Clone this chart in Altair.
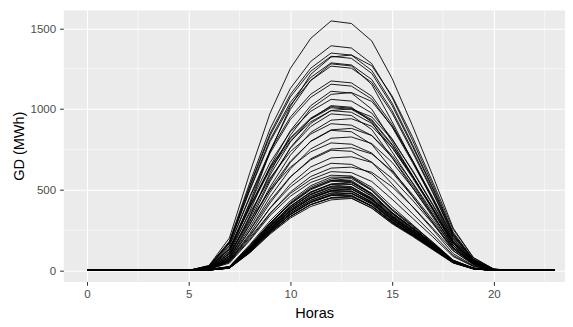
import altair as alt
import pandas as pd

HOURS = list(range(24))
NIGHT_BEFORE = [0, 0, 0, 0, 0, 0]   # hours 0-5
NIGHT_AFTER = [0, 0, 0]             # hours 21-23

# values for hours 6..20, one list per day (upper curves)
UPPER = [
    [31, 201, 603, 974, 1252, 1438, 1546, 1530, 1422, 1190, 897, 587, 263, 77, 8],
    [28, 181, 543, 877, 1128, 1295, 1392, 1378, 1281, 1072, 807, 529, 237, 70, 7],
    [27, 175, 525, 849, 1091, 1253, 1347, 1334, 1239, 1037, 781, 512, 229, 67, 7],
    [27, 173, 518, 836, 1075, 1234, 1327, 1314, 1221, 1022, 770, 504, 226, 66, 7],
    [26, 167, 502, 810, 1042, 1196, 1286, 1273, 1183, 990, 746, 489, 219, 64, 6],
    [25, 165, 494, 798, 1025, 1177, 1266, 1253, 1165, 975, 734, 481, 215, 63, 6],
    [23, 153, 458, 740, 951, 1092, 1174, 1162, 1080, 904, 681, 446, 200, 59, 6],
    [23, 150, 450, 727, 935, 1073, 1154, 1142, 1062, 889, 669, 439, 196, 58, 6],
    [11, 88, 331, 606, 838, 1003, 1091, 1102, 1047, 893, 683, 452, 209, 66, 7],
    [21, 138, 413, 668, 859, 986, 1060, 1049, 975, 816, 615, 403, 180, 53, 5],
    [15, 92, 337, 592, 796, 939, 1021, 1011, 919, 735, 541, 347, 143, 41, 4],
    [10, 80, 300, 551, 761, 911, 991, 1001, 951, 811, 621, 410, 190, 60, 6],
    [20, 129, 386, 624, 802, 921, 990, 980, 911, 762, 574, 376, 168, 50, 5],
    [15, 87, 320, 563, 757, 892, 970, 960, 873, 698, 514, 330, 136, 39, 4],
    [9, 75, 282, 517, 714, 855, 931, 940, 893, 761, 583, 385, 179, 56, 6],
    [18, 118, 355, 573, 736, 845, 909, 900, 836, 700, 527, 345, 155, 45, 5],
    [13, 78, 286, 503, 677, 799, 868, 859, 781, 625, 460, 295, 122, 35, 3],
    [8, 66, 248, 455, 629, 753, 819, 827, 786, 670, 513, 339, 157, 50, 5],
    [16, 103, 308, 498, 640, 735, 790, 782, 727, 608, 458, 300, 134, 40, 4],
    [11, 67, 246, 432, 581, 685, 745, 738, 671, 536, 395, 253, 104, 30, 3],
    [7, 56, 211, 387, 535, 641, 697, 704, 669, 570, 436, 289, 134, 42, 4],
    [10, 60, 219, 385, 518, 611, 664, 657, 598, 478, 352, 226, 93, 27, 3],
    [9, 55, 202, 355, 477, 563, 612, 606, 551, 441, 324, 208, 86, 24, 2],
    [13, 107, 401, 734, 1015, 1215, 1322, 1335, 1268, 1081, 828, 547, 254, 80, 8],
    [19, 115, 422, 742, 998, 1178, 1280, 1267, 1152, 922, 678, 435, 179, 51, 5],
    [17, 100, 366, 644, 866, 1021, 1110, 1099, 999, 799, 588, 377, 155, 44, 4],
    [20, 132, 396, 639, 822, 944, 1015, 1005, 934, 782, 589, 386, 173, 51, 5],
    [20, 131, 393, 635, 816, 937, 1008, 998, 927, 776, 585, 383, 171, 50, 5],
    [9, 70, 264, 484, 669, 801, 871, 880, 836, 713, 546, 361, 167, 53, 5],
    [8, 61, 228, 418, 578, 692, 752, 760, 722, 616, 471, 312, 144, 46, 5],
    [6, 51, 192, 352, 486, 582, 634, 640, 608, 518, 397, 262, 122, 38, 4],
]

# values for hours 6..20 (dense lower band)
BAND = [
    [6, 24, 159, 307, 431, 525, 578, 578, 496, 372, 271, 165, 59, 12, 0],
    [3, 17, 138, 288, 414, 506, 558, 569, 495, 374, 276, 173, 63, 14, 0],
    [6, 22, 152, 292, 410, 500, 551, 551, 472, 354, 259, 157, 56, 11, 0],
    [3, 17, 133, 277, 398, 487, 536, 547, 476, 359, 265, 166, 61, 14, 0],
    [5, 22, 147, 283, 398, 485, 534, 534, 458, 343, 251, 153, 55, 11, 0],
    [3, 16, 129, 269, 387, 473, 522, 533, 463, 350, 258, 161, 59, 13, 0],
    [5, 21, 143, 276, 387, 472, 519, 519, 445, 334, 244, 148, 53, 11, 0],
    [3, 16, 125, 261, 376, 459, 506, 517, 449, 339, 251, 157, 57, 13, 0],
    [5, 21, 139, 268, 376, 458, 505, 505, 433, 324, 237, 144, 52, 10, 0],
    [3, 15, 122, 254, 366, 447, 493, 503, 437, 330, 244, 152, 56, 13, 0],
    [5, 20, 135, 260, 365, 445, 490, 490, 420, 315, 230, 140, 50, 10, 0],
    [2, 15, 119, 248, 356, 436, 480, 490, 426, 322, 238, 149, 54, 12, 0],
    [5, 20, 132, 254, 356, 434, 478, 478, 410, 307, 224, 137, 49, 10, 0],
    [2, 14, 115, 240, 346, 422, 466, 475, 413, 312, 230, 144, 53, 12, 0],
    [5, 19, 127, 245, 345, 420, 463, 463, 396, 297, 217, 132, 47, 9, 0],
    [2, 14, 112, 233, 335, 409, 451, 460, 400, 302, 223, 140, 51, 12, 0],
    [5, 18, 124, 238, 334, 408, 449, 449, 385, 289, 211, 128, 46, 9, 0],
    [2, 14, 108, 225, 324, 396, 437, 446, 387, 293, 216, 135, 50, 11, 0],
    [3, 18, 140, 293, 421, 515, 567, 579, 503, 380, 281, 176, 64, 15, 0],
    [6, 23, 153, 295, 415, 506, 557, 557, 477, 358, 261, 159, 57, 11, 0],
    [3, 16, 132, 274, 395, 482, 532, 543, 471, 356, 263, 164, 60, 14, 0],
    [5, 21, 142, 274, 384, 468, 515, 515, 442, 331, 242, 147, 53, 11, 0],
    [3, 15, 123, 256, 369, 451, 497, 507, 440, 333, 246, 154, 56, 13, 0],
    [5, 20, 136, 262, 367, 448, 493, 493, 423, 317, 231, 141, 50, 10, 0],
    [2, 15, 116, 243, 349, 427, 470, 480, 417, 315, 233, 146, 53, 12, 0],
    [5, 19, 129, 248, 347, 424, 466, 466, 400, 300, 219, 133, 48, 10, 0],
    [2, 14, 111, 231, 333, 407, 448, 457, 397, 300, 222, 139, 51, 12, 0],
    [8, 45, 185, 340, 460, 545, 590, 585, 515, 395, 285, 170, 60, 12, 0],
]

X_TICKS = [0, 5, 10, 15, 20]
Y_TICKS = [0, 500, 1000, 1500]
MINOR_X = [2.5, 7.5, 12.5, 17.5, 22.5]
MINOR_Y = [250, 750, 1250]

rows = []
for i, day in enumerate(UPPER + BAND):
    vals = NIGHT_BEFORE + day + NIGHT_AFTER
    for h, v in zip(HOURS, vals):
        rows.append({"hora": h, "gd": v, "serie": i})
df = pd.DataFrame(rows)

FONT = "Liberation Sans"
XS = alt.Scale(domain=[-1.165, 23.5], nice=False, zero=False)
YS = alt.Scale(domain=[-69, 1614], nice=False, zero=False)

common_axis = dict(
    grid=True, gridColor="white", gridWidth=1.1, domain=False, format="d",
    tickColor="#333333", tickSize=3.7, tickWidth=1.07,
    labelColor="#4D4D4D", labelFontSize=11.7, labelFont=FONT,
    titleFont=FONT, titleFontSize=14.7, titleFontWeight="normal", titleColor="black",
)
XA = alt.Axis(values=X_TICKS, title="Horas", labelPadding=3, titlePadding=6, **common_axis)
YA = alt.Axis(values=Y_TICKS, title="GD (MWh)", labelPadding=4, titlePadding=4, **common_axis)

minor_x = alt.Chart(pd.DataFrame({"hora": MINOR_X})).mark_rule(
    color="white", strokeWidth=0.55
).encode(x=alt.X("hora:Q", scale=XS, axis=XA))

minor_y = alt.Chart(pd.DataFrame({"gd": MINOR_Y})).mark_rule(
    color="white", strokeWidth=0.55
).encode(y=alt.Y("gd:Q", scale=YS, axis=YA))

lines = alt.Chart(df).mark_line(color="black", strokeWidth=0.9, clip=True).encode(
    x=alt.X("hora:Q", scale=XS, axis=XA),
    y=alt.Y("gd:Q", scale=YS, axis=YA),
    detail="serie:N",
)

chart = alt.layer(minor_x, minor_y, lines).properties(
    width=508, height=275,
    autosize=alt.AutoSizeParams(type="none"),
    padding={"left": 56, "top": 0, "right": 0, "bottom": 40},
    background="white",
).configure_view(fill="#EBEBEB", stroke="transparent")

chart.save("out.html", embed_options={"renderer": "svg", "actions": False})
